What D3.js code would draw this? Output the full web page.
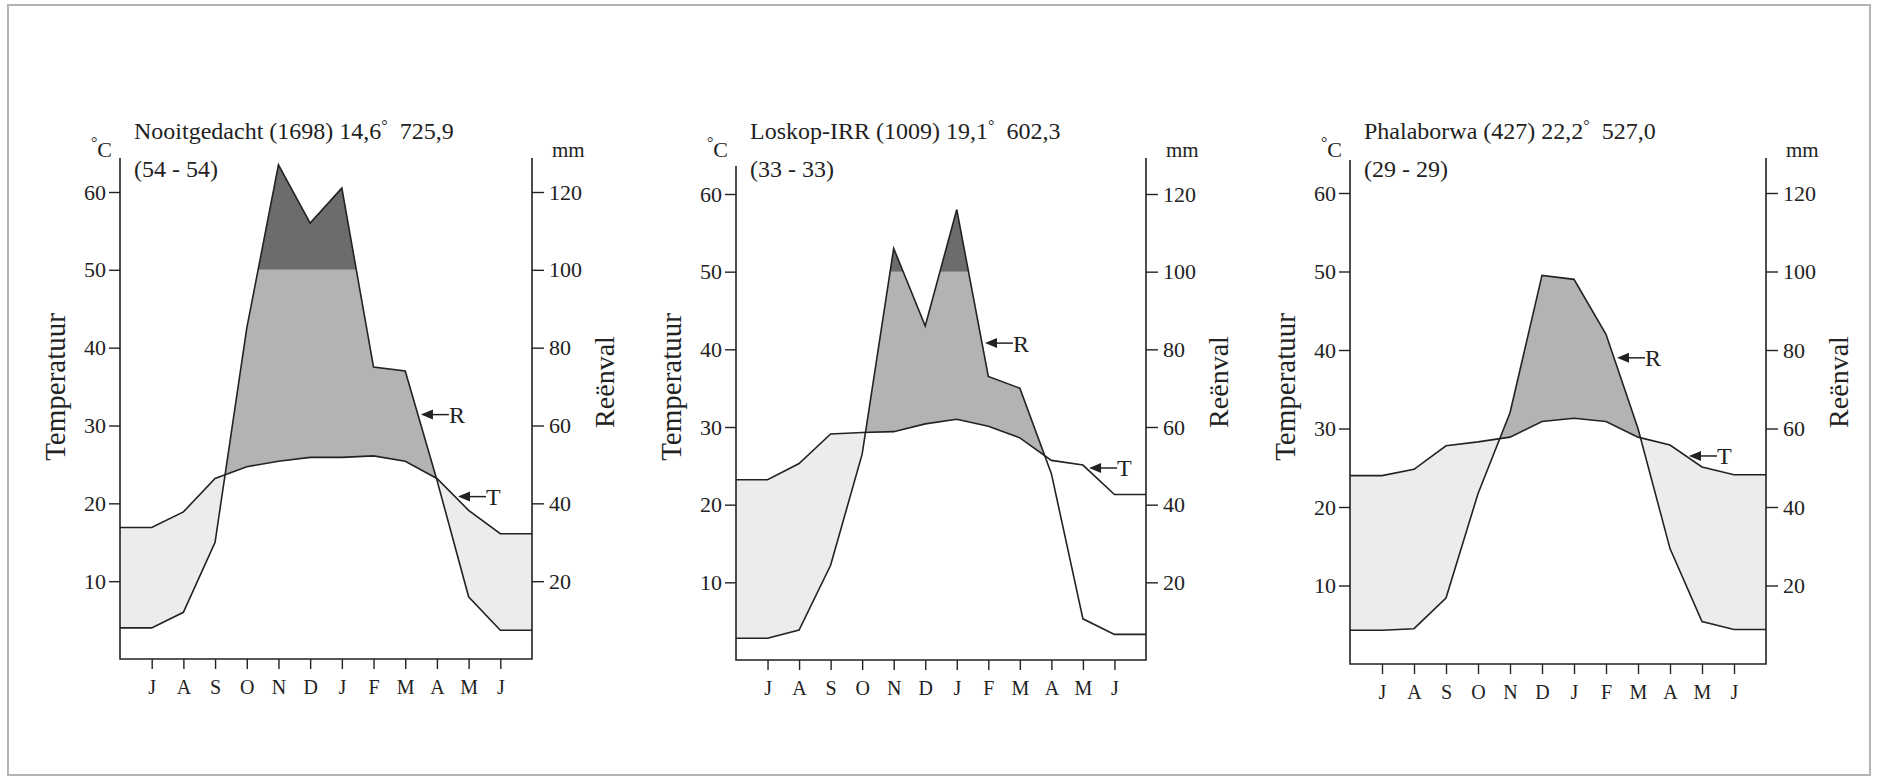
<!DOCTYPE html>
<html lang="af">
<head>
<meta charset="UTF-8">
<title>Klimaatdiagramme</title>
<script src="https://d3js.org/d3.v7.min.js"></script>
<style>
  body { margin: 0; background: #fff; }
  svg { display: block; font-family: "Liberation Serif", "Times New Roman", serif; }
  .axis text { fill: #222; font-family: "Liberation Serif", "Times New Roman", serif; }
  .axis line { stroke: #222; stroke-width: 1.4; }
</style>
</head>
<body>
<svg id="chart" width="1881" height="779"></svg>
<script>
// maande, Julie tot Junie
const months = ["J", "A", "S", "O", "N", "D", "J", "F", "M", "A", "M", "J"];

const stationNames = ["Nooitgedacht", "Loskop-IRR", "Phalaborwa"];
const altitudes = ["1698", "1009", "427"];
const meanTemps = ["14,6", "19,1", "22,2"];
const annualRain = ["725,9", "602,3", "527,0"];
const yearSpans = ["(54 - 54)", "(33 - 33)", "(29 - 29)"];

// temperatuur (°C) en reënval (mm) per maand
const tempNooitgedacht = [16.9, 18.9, 23.2, 24.7, 25.4, 25.9, 25.9, 26.1, 25.4, 23.2, 19.1, 16.1];
const rainNooitgedacht = [8, 12, 30, 85, 127, 112, 121, 75, 74, 46, 16, 7.4];

const tempLoskop = [23.2, 25.3, 29.1, 29.3, 29.4, 30.4, 31.0, 30.1, 28.6, 25.7, 25.1, 21.3];
const rainLoskop = [5.6, 7.7, 24.4, 53, 106, 86, 116, 73, 70, 48, 10.6, 6.6];

const tempPhalaborwa = [24.0, 24.8, 27.8, 28.3, 28.9, 30.9, 31.3, 30.9, 28.9, 27.9, 25.1, 24.1];
const rainPhalaborwa = [8.6, 9, 16.8, 43.4, 64, 99, 98, 84, 60, 29.4, 10.8, 8.8];

const tempTicks = [10, 20, 30, 40, 50, 60];
const rainTicks = [20, 40, 60, 80, 100, 120];

const temps = [tempNooitgedacht, tempLoskop, tempPhalaborwa];
const rains = [rainNooitgedacht, rainLoskop, rainPhalaborwa];

// uitleg van elke paneel
const panels = [
  { left: 120, right: 532, y0: 659, y60: 192, top: 158, topL: 158, dry: [0, 13], arrR: 9.4, arrT: 10.57 },
  { left: 736, right: 1146, y0: 660, y60: 194, top: 158, topL: 166, dry: [0, 6.5], arrR: 7.8, arrT: 11.1 },
  { left: 1350, right: 1766, y0: 664, y60: 193, top: 158, topL: 160, dry: [0, 13], arrR: 8.25, arrT: 10.5 }
];

const svg = d3.select('#chart');
const ink = '#222';

svg.append('rect')
  .attr('x', 8).attr('y', 5).attr('width', 1862).attr('height', 770)
  .attr('fill', 'none').attr('stroke', '#b4b4b4').attr('stroke-width', 2);

const ext = a => [a[0], ...a, a[a.length - 1]];

panels.forEach((p, k) => {
  const g = svg.append('g');
  const x = d3.scaleLinear().domain([0, 13]).range([p.left, p.right]);
  const yT = d3.scaleLinear().domain([0, 60]).range([p.y0, p.y60]);
  const yR = d3.scaleLinear().domain([0, 120]).range([p.y0, p.y60]);

  const T = ext(temps[k]);
  const R = ext(rains[k]).map(v => v / 2); // 10 °C = 20 mm
  const idx = d3.range(14);
  const hi = p.top - 20;

  const defs = g.append('defs');
  defs.append('clipPath').attr('id', 'belowT' + k).append('path')
    .attr('d', d3.area().x(i => x(i)).y0(p.y0).y1(i => yT(T[i]))(idx));
  defs.append('clipPath').attr('id', 'aboveT' + k).append('path')
    .attr('d', d3.area().x(i => x(i)).y0(hi).y1(i => yT(T[i]))(idx));
  defs.append('clipPath').attr('id', 'dry' + k).append('rect')
    .attr('x', x(p.dry[0])).attr('width', x(p.dry[1]) - x(p.dry[0]))
    .attr('y', hi).attr('height', p.y0 - hi);
  defs.append('clipPath').attr('id', 'under100' + k).append('rect')
    .attr('x', p.left).attr('width', p.right - p.left)
    .attr('y', yR(100)).attr('height', p.y0 - yR(100));
  defs.append('clipPath').attr('id', 'over100' + k).append('rect')
    .attr('x', p.left).attr('width', p.right - p.left)
    .attr('y', hi).attr('height', yR(100) - hi);

  const aboveR = d3.area().x(i => x(i)).y0(hi).y1(i => yT(R[i]));
  const belowR = d3.area().x(i => x(i)).y0(p.y0).y1(i => yT(R[i]));

  // droë tydperk
  g.append('g').attr('clip-path', `url(#dry${k})`)
    .append('path').attr('clip-path', `url(#belowT${k})`)
    .attr('d', aboveR(idx)).attr('fill', '#ececec');
  // nat tydperk
  g.append('g').attr('clip-path', `url(#under100${k})`)
    .append('path').attr('clip-path', `url(#aboveT${k})`)
    .attr('d', belowR(idx)).attr('fill', '#b3b3b3');
  // meer as 100 mm
  g.append('path').attr('clip-path', `url(#over100${k})`)
    .attr('d', belowR(idx)).attr('fill', '#6c6c6c');

  const line = arr => d3.line().x(i => x(i)).y(i => yT(arr[i]))(idx);
  g.append('path').attr('d', line(T)).attr('fill', 'none').attr('stroke', ink).attr('stroke-width', 1.6);
  g.append('path').attr('d', line(R)).attr('fill', 'none').attr('stroke', ink).attr('stroke-width', 1.6);

  // raam
  g.append('path')
    .attr('d', `M${p.left},${p.topL}V${p.y0}H${p.right}V${p.top}`)
    .attr('fill', 'none').attr('stroke', ink).attr('stroke-width', 1.6);

  const left = g.append('g').attr('class', 'axis').attr('transform', `translate(${p.left},0)`)
    .call(d3.axisLeft(yT).tickValues(tempTicks).tickSize(11).tickPadding(3));
  const right = g.append('g').attr('class', 'axis').attr('transform', `translate(${p.right},0)`)
    .call(d3.axisRight(yR).tickValues(rainTicks).tickSize(12).tickPadding(5));
  const bottom = g.append('g').attr('class', 'axis').attr('transform', `translate(0,${p.y0})`)
    .call(d3.axisBottom(x).tickValues(d3.range(1, 13)).tickFormat(i => months[i - 1]).tickSize(10).tickPadding(11));
  [left, right, bottom].forEach(a => {
    a.attr('font-family', null);
    a.select('.domain').remove();
  });
  left.selectAll('text').attr('font-size', 22);
  right.selectAll('text').attr('font-size', 22);
  bottom.selectAll('text').attr('font-size', 20);

  // opskrifte
  const title = g.append('text').attr('x', p.left + 14).attr('y', 139)
    .attr('font-size', 24).attr('fill', ink);
  title.append('tspan').text(`${stationNames[k]} (${altitudes[k]}) ${meanTemps[k]}`);
  title.append('tspan').attr('dy', -8).attr('font-size', 16).text('°');
  title.append('tspan').attr('dy', 8).attr('dx', 12).text(annualRain[k]);
  g.append('text').attr('x', p.left + 14).attr('y', 177)
    .attr('font-size', 24).attr('fill', ink).text(yearSpans[k]);

  const unitC = g.append('text').attr('x', p.left - 8).attr('y', 157)
    .attr('text-anchor', 'end').attr('font-size', 22).attr('fill', ink);
  unitC.append('tspan').attr('dy', -9).attr('font-size', 16).text('°');
  unitC.append('tspan').attr('dy', 9).text('C');
  g.append('text').attr('x', p.right + 20).attr('y', 157)
    .attr('font-size', 21).attr('fill', ink).text('mm');

  g.append('text')
    .attr('transform', `translate(${p.left - 55},387) rotate(-90)`)
    .attr('text-anchor', 'middle').attr('font-size', 29).attr('fill', ink).text('Temperatuur');
  g.append('text')
    .attr('transform', `translate(${p.right + 82},382) rotate(-90)`)
    .attr('text-anchor', 'middle').attr('font-size', 28).attr('fill', ink).text('Reënval');

  // pyltjies R en T
  const at = (arr, t) => {
    const i = Math.floor(t), f = t - i;
    return arr[i] + (arr[i + 1] - arr[i]) * f;
  };
  [['R', R, p.arrR], ['T', T, p.arrT]].forEach(([lab, arr, t]) => {
    const ax = x(t) + 3, ay = yT(at(arr, t));
    const a = g.append('g').attr('transform', `translate(${ax},${ay})`);
    a.append('path').attr('d', 'M0,0L12,-5L12,5Z').attr('fill', ink);
    a.append('line').attr('x1', 10).attr('x2', 28).attr('stroke', ink).attr('stroke-width', 1.5);
    a.append('text').attr('x', 28).attr('dy', '0.35em').attr('font-size', 24).attr('fill', ink).text(lab);
  });
});
</script>
</body>
</html>
